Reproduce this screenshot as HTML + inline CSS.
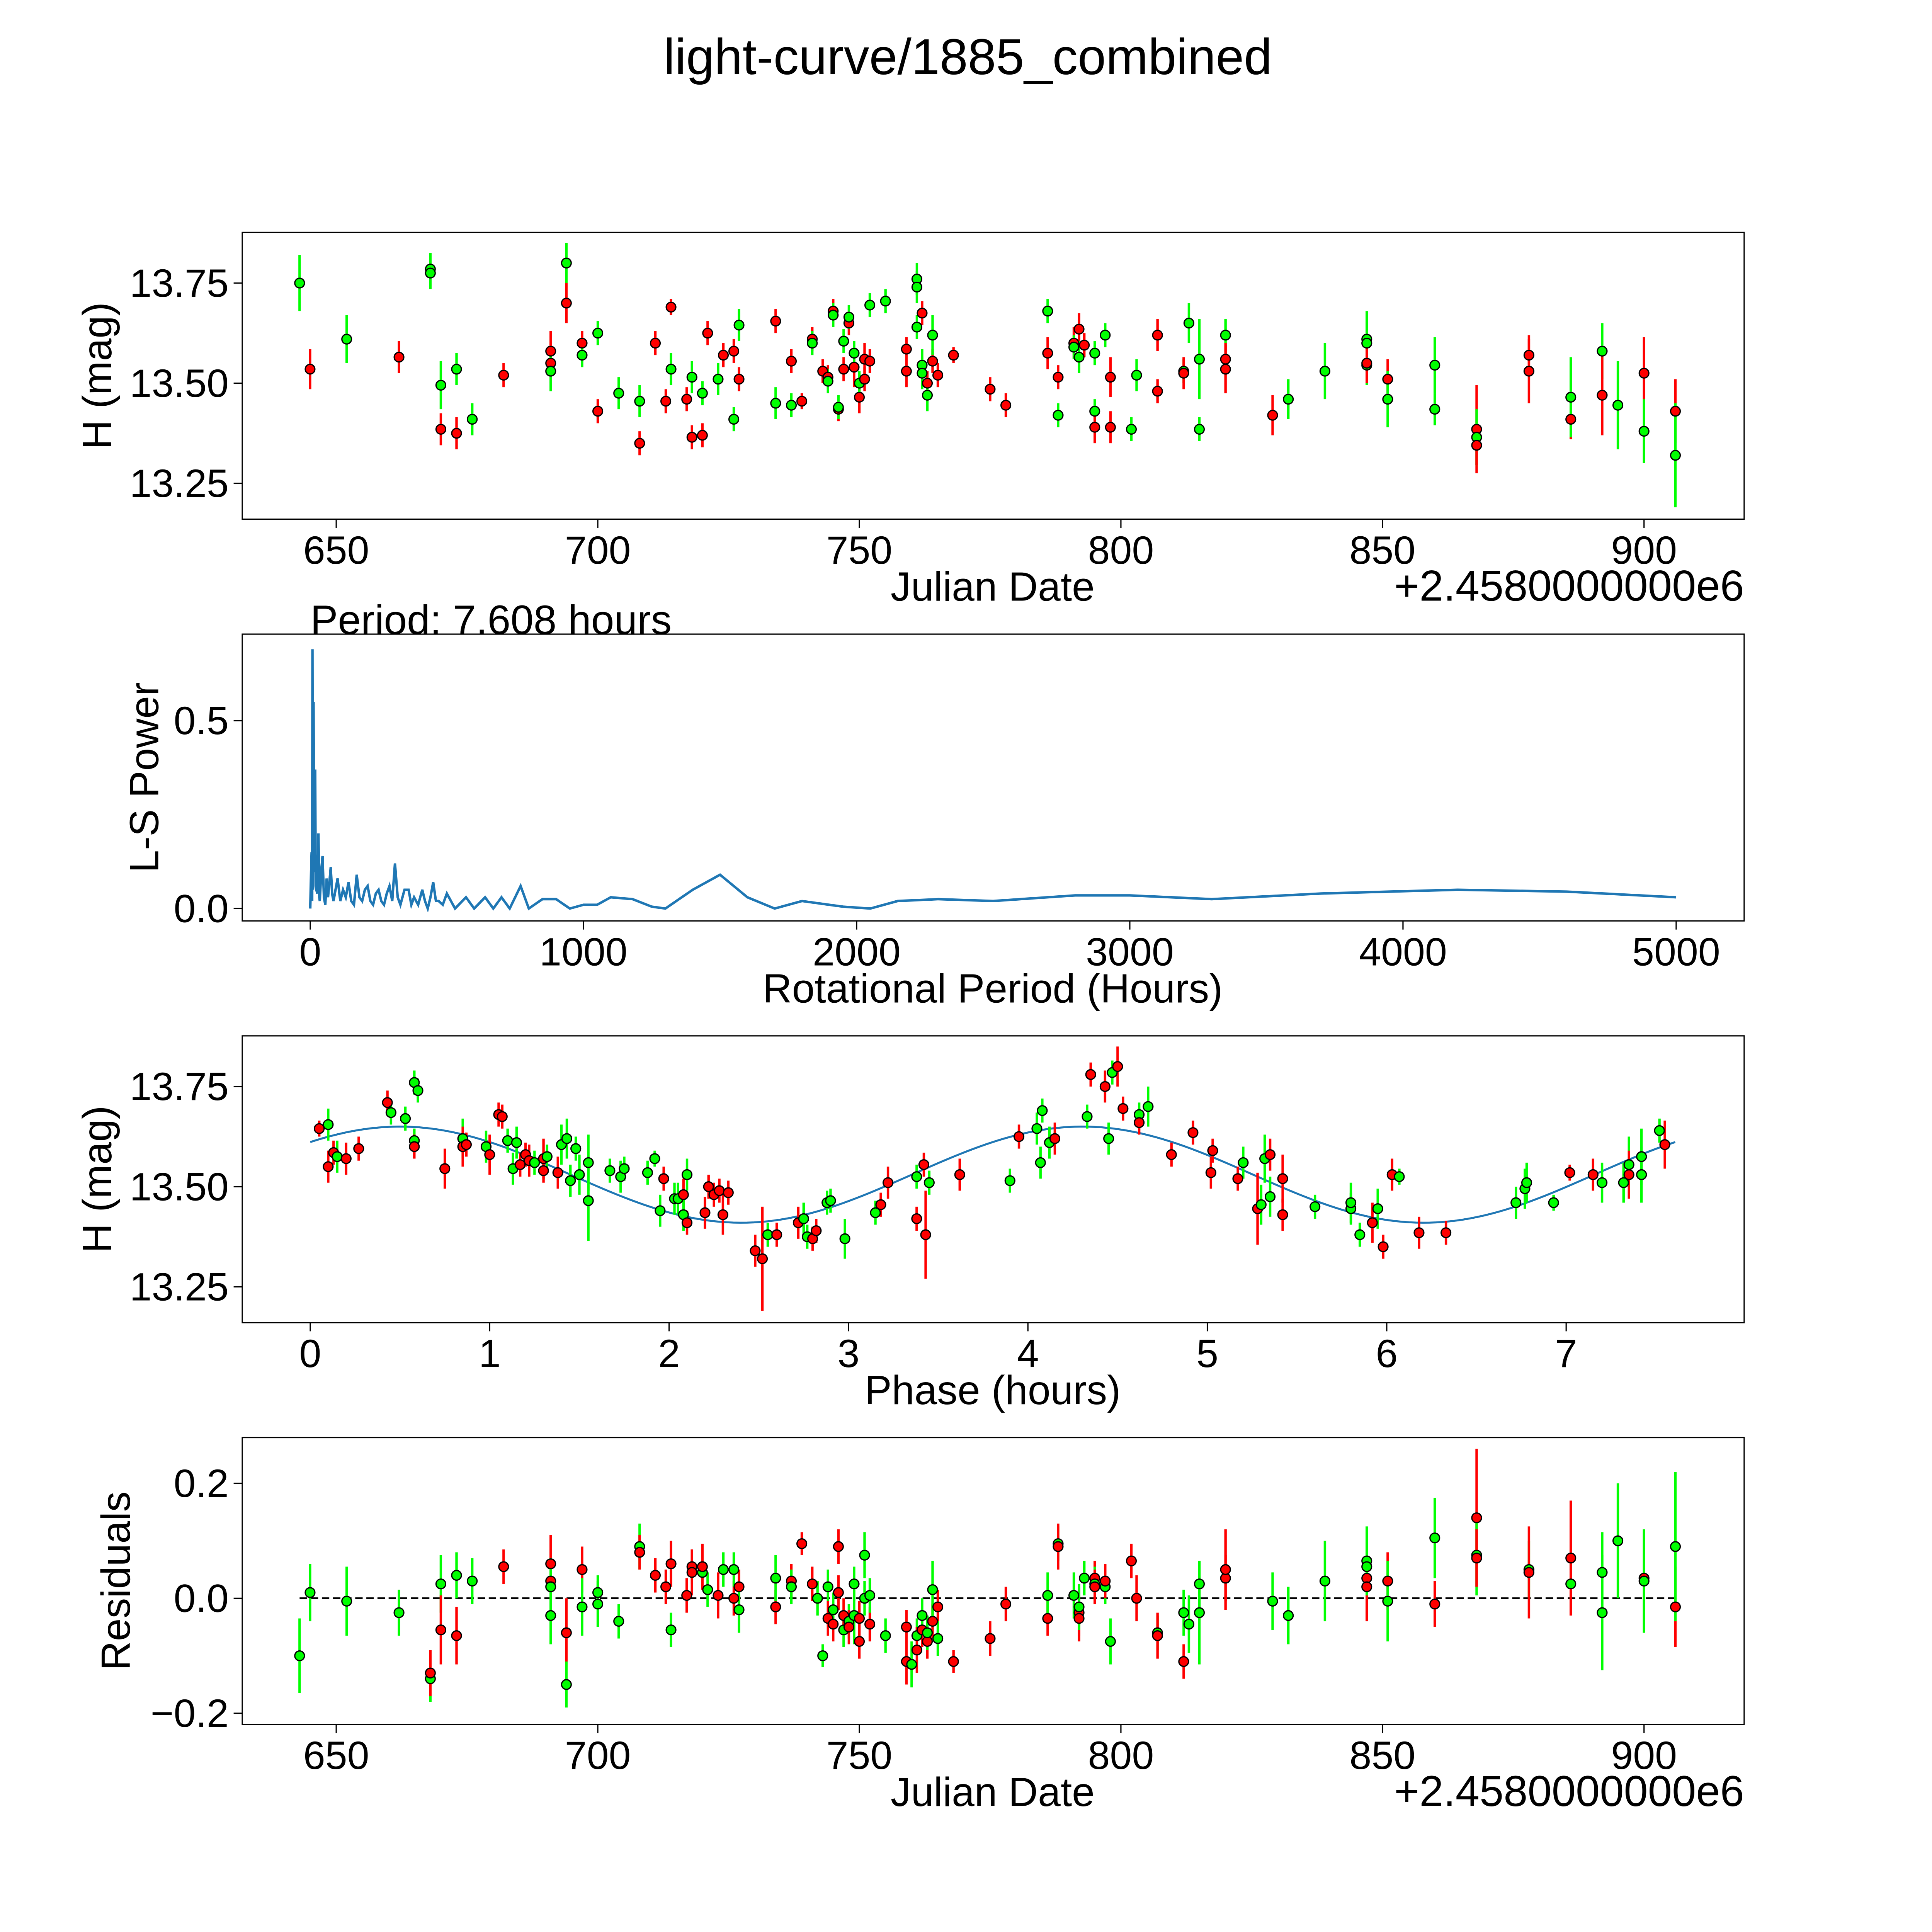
<!DOCTYPE html>
<html><head><meta charset="utf-8"><style>html,body{margin:0;padding:0;background:#fff;overflow:hidden;width:5400px;height:5400px}svg{display:block}text{font-family:"Liberation Sans","DejaVu Sans",sans-serif;fill:#000}</style></head>
<body>
<svg id="chart" width="5400" height="5400" viewBox="0 0 1688 1688" xmlns="http://www.w3.org/2000/svg">
<rect width="1688" height="1688" fill="#fff"/>
<text x="783" y="60" font-size="41" text-anchor="middle">light-curve/1885_combined</text>
<g id="layer"></g>
</svg>
<script>
// ---- Panel 1: light curve (date offset, mag, err, filter)
const lcDate=[643,645,652,662,668,668,670,670,673,673,676,682,691,691,691,694,694,697,697,700,700,704,708,708,711,713,714,714,717,718,718,720,720,721,723,724,726,726,727,727,734,734,737,737,739,741,741,743,744,744,745,745,746,746,747,747,748,748,749,749,750,750,751,751,752,752,755,759,759,761,761,761,762,762,762,763,763,764,764,765,768,775,778,786,786,788,788,791,791,792,792,793,795,795,795,797,798,798,802,803,807,807,812,812,813,815,815,820,820,820,829,832,839,847,847,847,847,851,851,860,860,868,868,868,878,878,886,886,892,892,895,900,900,906,906];
const lcMag=[13.75,13.535,13.61,13.565,13.785,13.775,13.495,13.385,13.535,13.375,13.41,13.52,13.58,13.55,13.53,13.80,13.70,13.60,13.57,13.625,13.43,13.475,13.455,13.35,13.60,13.455,13.69,13.535,13.46,13.515,13.365,13.37,13.475,13.625,13.51,13.57,13.58,13.41,13.51,13.645,13.655,13.45,13.555,13.445,13.455,13.61,13.60,13.53,13.515,13.505,13.68,13.67,13.435,13.44,13.535,13.605,13.65,13.665,13.54,13.575,13.465,13.50,13.56,13.51,13.695,13.555,13.705,13.53,13.585,13.64,13.76,13.74,13.675,13.545,13.525,13.50,13.47,13.555,13.62,13.52,13.57,13.485,13.445,13.68,13.575,13.42,13.515,13.60,13.59,13.635,13.565,13.595,13.43,13.39,13.575,13.62,13.515,13.39,13.385,13.52,13.48,13.62,13.53,13.525,13.65,13.56,13.385,13.62,13.56,13.535,13.42,13.46,13.53,13.61,13.60,13.545,13.55,13.51,13.46,13.545,13.435,13.385,13.365,13.345,13.57,13.53,13.41,13.465,13.58,13.47,13.445,13.525,13.38,13.43,13.32];
const lcErr=[.07,.05,.06,.04,.04,.04,.06,.04,.04,.04,.04,.03,.05,.05,.05,.05,.05,.03,.03,.03,.03,.04,.04,.03,.03,.03,.02,.04,.03,.04,.03,.03,.03,.03,.04,.03,.03,.03,.03,.04,.03,.04,.03,.03,.02,.03,.03,.03,.03,.03,.03,.03,.03,.03,.03,.03,.03,.03,.05,.03,.04,.03,.04,.03,.03,.03,.03,.04,.03,.03,.04,.04,.03,.04,.04,.03,.04,.03,.05,.03,.02,.03,.03,.03,.04,.03,.03,.04,.03,.04,.04,.03,.03,.04,.03,.03,.05,.04,.03,.04,.03,.04,.03,.04,.05,.10,.03,.04,.04,.06,.05,.05,.07,.07,.07,.05,.05,.05,.07,.07,.04,.11,.07,.05,.05,.08,.05,.10,.07,.10,.11,.09,.08,.08,.13];
const lcBand="grgrgggrgrgrrrggrrggrggrrrrgrgrrgrgrrgrgrgrgrrgrrgrgrgrgrgrgrgrrgrgrrgggrggrgrgrrrrgrgrrgrgrgrggrrggrrgrggggrrrgggggrrgggrgrrrrggrgrgrggrrgrg".split("");
// ---- Panel 2: periodogram (hours, power)
const lsPeriod=[0,3,5,7,8,9,10,12,14,15,18,20,22,26,30,33,35,40,45,50,55,60,65,75,80,85,95,100,110,120,130,140,150,160,170,180,190,200,210,220,230,240,250,260,270,280,290,300,310,320,330,345,360,370,380,395,410,420,430,440,450,460,470,485,500,530,570,600,640,670,700,730,770,800,850,900,950,1000,1050,1100,1180,1250,1300,1400,1500,1600,1700,1800,1950,2050,2150,2300,2500,2800,3000,3300,3700,4200,4600,5000];
const lsPower=[0,0.1,0.15,0.02,0.69,0.3,0.05,0.55,0.1,0.1,0.37,0.06,0.05,0.04,0.2,0.03,0.02,0.1,0.14,0.03,0.01,0.08,0.03,0.11,0.04,0.02,0.06,0.08,0.02,0.05,0.03,0.07,0.02,0.01,0.09,0.03,0.02,0.05,0.06,0.02,0.01,0.04,0.05,0.02,0.01,0.04,0.06,0.02,0.12,0.03,0.01,0.05,0.05,0.01,0.03,0.01,0.05,0.02,0,0.03,0.07,0.02,0.02,0.01,0.04,0,0.03,0,0.03,0,0.03,0,0.06,0,0.025,0.025,0,0.01,0.01,0.03,0.025,0.005,0,0.05,0.09,0.03,0,0.02,0.005,0,0.02,0.025,0.02,0.035,0.035,0.025,0.04,0.05,0.045,0.03];
// ---- Panel 3: phased (hours, mag, err, band)
const phHour=[0.05,0.1,0.1,0.13,0.15,0.2,0.27,0.43,0.45,0.53,0.58,0.6,0.58,0.58,0.75,0.85,0.85,0.87,0.98,1.0,1.05,1.07,1.1,1.15,1.13,1.17,1.2,1.22,1.25,1.3,1.32,1.3,1.38,1.4,1.43,1.45,1.48,1.5,1.55,1.55,1.67,1.73,1.75,1.88,1.92,1.95,1.97,2.03,2.05,2.08,2.1,2.08,2.1,2.2,2.22,2.25,2.28,2.3,2.33,2.48,2.52,2.55,2.6,2.72,2.75,2.77,2.8,2.82,2.88,2.9,2.98,3.15,3.18,3.22,3.38,3.38,3.42,3.43,3.45,3.62,3.9,3.95,4.05,4.07,4.08,4.12,4.15,4.33,4.35,4.43,4.45,4.47,4.5,4.53,4.62,4.62,4.67,4.8,4.92,5.02,5.03,5.17,5.2,5.28,5.3,5.32,5.35,5.35,5.42,5.42,5.6,5.8,5.8,5.85,5.92,5.95,5.98,6.03,6.07,6.18,6.33,6.72,6.77,6.78,6.93,7.02,7.15,7.2,7.32,7.35,7.35,7.42,7.42,7.52,7.55];
const phMag=[13.645,13.655,13.55,13.585,13.575,13.57,13.595,13.71,13.685,13.67,13.76,13.74,13.615,13.60,13.545,13.62,13.60,13.605,13.60,13.58,13.68,13.675,13.615,13.61,13.545,13.555,13.58,13.565,13.56,13.57,13.575,13.54,13.535,13.605,13.62,13.515,13.595,13.53,13.56,13.465,13.54,13.525,13.545,13.535,13.57,13.44,13.52,13.47,13.47,13.48,13.53,13.43,13.41,13.435,13.50,13.48,13.49,13.43,13.485,13.34,13.32,13.38,13.38,13.41,13.42,13.375,13.37,13.39,13.46,13.465,13.37,13.435,13.455,13.51,13.42,13.525,13.555,13.38,13.51,13.53,13.515,13.625,13.645,13.56,13.69,13.61,13.62,13.675,13.78,13.75,13.62,13.785,13.80,13.695,13.68,13.66,13.70,13.58,13.635,13.535,13.59,13.52,13.56,13.445,13.455,13.57,13.58,13.475,13.43,13.52,13.45,13.445,13.46,13.38,13.41,13.445,13.35,13.53,13.525,13.385,13.385,13.46,13.495,13.51,13.46,13.535,13.53,13.51,13.51,13.555,13.53,13.575,13.53,13.64,13.605];
const phErr=[.02,.04,.04,.03,.04,.04,.03,.03,.03,.03,.03,.03,.03,.03,.05,.05,.05,.03,.04,.05,.03,.03,.03,.04,.04,.03,.03,.04,.03,.05,.03,.03,.04,.05,.05,.04,.03,.05,.07,.10,.03,.04,.03,.03,.02,.04,.03,.04,.04,.04,.04,.04,.03,.04,.03,.03,.03,.05,.03,.04,.13,.03,.03,.04,.04,.03,.03,.03,.03,.03,.05,.03,.03,.04,.03,.03,.03,.11,.03,.04,.03,.03,.04,.04,.03,.04,.04,.03,.03,.04,.04,.03,.05,.03,.03,.03,.05,.03,.03,.04,.03,.03,.04,.09,.05,.06,.04,.05,.04,.06,.03,.04,.05,.03,.05,.05,.03,.04,.02,.04,.03,.04,.05,.05,.02,.02,.04,.05,.05,.07,.06,.07,.07,.03,.06];
const phBand="rgrrgrrrgggggrrgrrgrrrgggrrrgrgrrgggggggggggggrggrggrrrrrrrrrgrrggrrggggrrrgrrgrgrggggrgrrggrrgrgrrrrrgrggrgrrggggrgrrgrrggggrrgggrgggrg".split("");
// ---- fit model
const fitMean=13.53, fitAmp=0.12, fitPeak=0.5, fitCycle=3.804, fitSpan=7.608;
// ---- Panel 4: residuals (date offset, residual, err, band)
const rsDate=[643,645,652,662,668,668,670,670,673,673,676,682,691,691,691,691,694,694,697,697,700,700,704,708,708,711,713,714,714,717,718,718,720,720,721,723,724,726,726,727,727,734,734,737,737,739,741,742,743,744,744,745,745,746,746,747,747,748,748,749,749,750,750,751,751,752,752,755,759,759,760,761,761,762,762,763,763,764,764,765,765,768,775,778,786,786,788,788,791,792,792,792,793,795,795,795,797,797,798,802,803,807,807,812,812,813,815,815,820,820,829,832,839,847,847,847,847,851,851,860,860,868,868,868,878,878,886,886,892,892,895,900,900,906,906];
const rsVal=[-0.10,0.01,-0.005,-0.025,-0.14,-0.13,0.025,-0.055,0.04,-0.065,0.03,0.055,0.06,0.03,0.02,-0.03,-0.06,-0.15,0.05,-0.015,-0.01,0.01,-0.04,0.09,0.08,0.04,0.02,0.06,-0.055,0.005,0.055,0.045,0.045,0.055,0.015,0.005,0.05,0.0,0.05,0.02,-0.02,-0.015,0.035,0.03,0.02,0.095,0.025,0.0,-0.1,0.02,-0.035,-0.045,-0.02,0.09,0.01,-0.055,-0.03,-0.04,-0.05,-0.03,0.025,-0.075,-0.035,0.075,0.0,-0.045,0.005,-0.065,-0.11,-0.05,-0.115,-0.065,-0.09,-0.055,-0.03,-0.075,-0.06,-0.04,0.015,-0.015,-0.07,-0.11,-0.07,-0.01,-0.035,0.005,0.095,0.09,0.005,-0.025,-0.035,-0.015,0.035,0.035,0.025,0.02,0.02,0.03,-0.075,0.065,0.0,-0.06,-0.065,-0.11,-0.025,-0.045,-0.025,0.025,0.035,0.05,-0.005,-0.03,0.03,0.035,0.065,0.02,0.055,0.03,-0.005,0.105,-0.01,0.14,0.075,0.07,0.05,0.045,0.025,0.07,0.045,-0.025,0.1,0.035,0.03,-0.015,0.09];
const rsErr=[.065,.05,.06,.04,.04,.04,.05,.06,.04,.05,.04,.03,.05,.05,.05,.05,.06,.04,.04,.05,.04,.03,.03,.04,.03,.03,.03,.04,.03,.03,.03,.04,.03,.04,.03,.04,.03,.03,.03,.03,.04,.03,.04,.03,.03,.02,.03,.03,.02,.03,.03,.03,.03,.03,.03,.03,.03,.03,.03,.05,.03,.03,.03,.04,.03,.03,.03,.03,.04,.03,.04,.03,.04,.03,.03,.03,.03,.03,.05,.03,.03,.02,.03,.03,.03,.04,.03,.04,.04,.04,.04,.04,.03,.03,.03,.03,.03,.03,.04,.03,.04,.03,.04,.03,.04,.05,.09,.04,.04,.07,.05,.05,.07,.07,.06,.06,.05,.05,.07,.07,.04,.12,.07,.05,.05,.08,.05,.10,.07,.10,.10,.08,.09,.07,.13];
const rsBand="gggggrgrgrgrrrggrgrgggggrrrrgrrrgrgrgrgrgrgrgrrgggrrgrrgrgrggrrggrggrrggrrgrgrgrgrrrrggrgrrggrgrgrgrrgrrggggrrgggrgrgrggrrgrgrgrgggrgrg".split("");

// ---- axis functions
const xDate1=d=>272+(d-650)*(1058/250);
const yLc=m=>229+(13.75-m)*(162/0.5);
const xPer=p=>251+p*(1105/5000);
const yPow=v=>735-v*(152/0.5);
const xPh=h=>251+h*(1016/7);
const yPh=m=>879+(13.75-m)*(162/0.5);
const yRs=r=>1293-r*(93/0.2);

const NS="http://www.w3.org/2000/svg";
const layer=document.getElementById('layer');
function mk(tag,attrs,parent){const e=document.createElementNS(NS,tag);for(const k in attrs)e.setAttribute(k,attrs[k]);(parent||layer).appendChild(e);return e;}
const COL={r:"#ff0000",g:"#00ff00"};

function panel(name,top,xTicks,xf,xlabel,ylabel,ylabX,offset){
  const g=mk('g',{});
  
  
  const fr=mk('rect',{x:196,y:top,width:1215,height:232,fill:'none',stroke:'#000','stroke-width':1},g);
  
  
  xTicks.forEach(t=>{const x=xf(t);mk('line',{x1:x,x2:x,y1:top+232,y2:top+239,stroke:'#000'},g);
    const tx=mk('text',{x:x,y:top+268,'font-size':32,'text-anchor':'middle'},g);tx.textContent=t;
    
    });
  const xl=mk('text',{x:803,y:top+298,'font-size':33,'text-anchor':'middle'},g);xl.textContent=xlabel;
  
  
  const yl=mk('text',{x:ylabX,y:top+116,'font-size':33,'text-anchor':'middle',transform:`rotate(-90 ${ylabX} ${top+116})`},g);yl.textContent=ylabel;
  
  
  if(offset){const o=mk('text',{x:1411,y:top+298,'font-size':35,'text-anchor':'end'},g);o.textContent='+2.4580000000e6';
    
    }
  return g;
}
function yTicks(g,vals,yf,fmt){vals.forEach(v=>{const y=yf(v);mk('line',{x1:189,x2:196,y1:y,y2:y,stroke:'#000'},g);
  const t=mk('text',{x:185,y:y+11,'font-size':32,'text-anchor':'end'},g);t.textContent=fmt(v);
  
  });}
function points(g,xs,ys,es,bs,xf,yf,name){
  xs.forEach((x,i)=>{const X=xf(x),c=COL[bs[i]]||COL.g;
    const l=mk('line',{x1:X,x2:X,y1:yf(ys[i]+es[i]),y2:yf(ys[i]-es[i]),stroke:c,'stroke-width':2},g);
    
    });
  xs.forEach((x,i)=>{const c=COL[bs[i]]||COL.g;
    const p=mk('circle',{cx:xf(x),cy:yf(ys[i]),r:3.9,fill:c,stroke:'#000','stroke-width':1},g);
    
    });
}

// Panel 1
let g1=panel('light-curve-panel',188,[650,700,750,800,850,900],xDate1,'Julian Date','H (mag)',90,true);
yTicks(g1,[13.25,13.5,13.75],yLc,v=>v.toFixed(2));
points(g1,lcDate,lcMag,lcErr,lcBand,xDate1,yLc,'light-curve');

// Panel 2
let g2=panel('periodogram-panel',513,[0,1000,2000,3000,4000,5000],xPer,'Rotational Period (Hours)','L-S Power',128,false);
yTicks(g2,[0,0.5],yPow,v=>v.toFixed(1));
const per=mk('polyline',{points:lsPeriod.map((p,i)=>xPer(p)+','+yPow(lsPower[i])).join(' '),fill:'none',stroke:'#1f77b4','stroke-width':2},g2);


const pt=mk('text',{x:251,y:513,'font-size':33.5},g2);pt.textContent='Period: 7.608 hours';



// Panel 3
let g3=panel('phase-panel',838,[0,1,2,3,4,5,6,7],xPh,'Phase (hours)','H (mag)',90,false);
yTicks(g3,[13.25,13.5,13.75],yPh,v=>v.toFixed(2));
const fitPts=[];for(let i=0;i<=200;i++){const h=fitSpan*i/200;fitPts.push(xPh(h)+','+yPh(fitMean+fitAmp*Math.cos(2*Math.PI*(h-fitPeak)/fitCycle)));}
const fit=mk('polyline',{points:fitPts.join(' '),fill:'none',stroke:'#1f77b4','stroke-width':1.6},g3);


points(g3,phHour,phMag,phErr,phBand,xPh,yPh,'phase');

// Panel 4
let g4=panel('residuals-panel',1163,[650,700,750,800,850,900],xDate1,'Julian Date','Residuals',105,true);
yTicks(g4,[-0.2,0,0.2],yRs,v=>(v<0?'\u2212':'')+Math.abs(v).toFixed(1));
const zl=mk('line',{x1:xDate1(643),x2:xDate1(906),y1:yRs(0),y2:yRs(0),stroke:'#000','stroke-width':1.5,'stroke-dasharray':'6,3'},g4);


points(g4,rsDate,rsVal,rsErr,rsBand,xDate1,yRs,'residual');
</script>
</body></html>
